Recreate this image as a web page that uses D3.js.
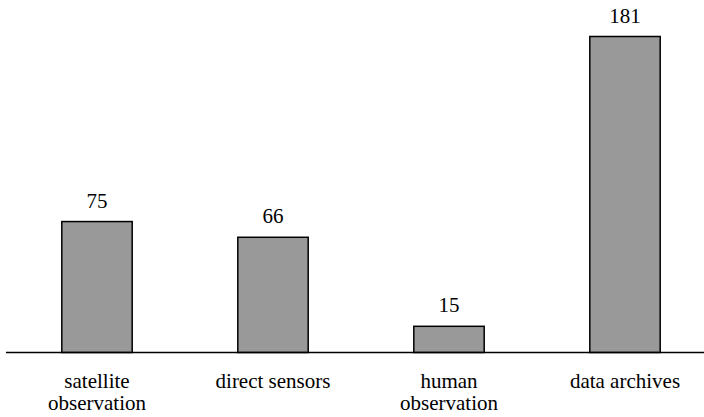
<!DOCTYPE html>
<html>
<head>
<meta charset="utf-8">
<script src="https://cdn.jsdelivr.net/npm/d3@7"></script>
</head>
<body style="margin:0">
<div id="plot"></div>
<script>
// data
var categories = [["satellite", "observation"], ["direct sensors"], ["human", "observation"], ["data archives"]];
var counts = [75, 66, 15, 181];

var w = 704, h = 417;
var baseY = 352.5;
var fontName = "Liberation Serif";

var svg = d3.select("#plot").append("svg")
    .attr("width", w)
    .attr("height", h);

var keys = categories.map(function(c) { return c.join(" "); });

var xScale = d3.scaleBand()
    .domain(keys)
    .range([9, 713])
    .paddingInner(0.6)
    .paddingOuter(0.3);

var yScale = d3.scaleLinear()
    .domain([0, 181])
    .range([baseY, 36.5]);

// bars
svg.selectAll(".bar")
    .data(counts)
    .enter().append("rect")
    .attr("class", "bar")
    .attr("x", function(d, i) { return xScale(keys[i]); })
    .attr("y", function(d) { return yScale(d); })
    .attr("width", xScale.bandwidth())
    .attr("height", function(d) { return baseY - yScale(d); })
    .attr("fill", "#999999")
    .attr("stroke", "#000")
    .attr("stroke-width", 1.5);

// value labels
counts.forEach(function(d, i) {
  svg.append("text")
    .attr("x", xScale(keys[i]) + xScale.bandwidth() / 2)
    .attr("y", yScale(d) - 14)
    .style("font-family", fontName)
    .style("font-size", "21px")
    .style("text-anchor", "middle")
    .text(d);
});

// baseline
svg.append("line")
    .attr("x1", 6).attr("x2", 704)
    .attr("y1", baseY).attr("y2", baseY)
    .attr("stroke", "#000")
    .attr("stroke-width", 1.5);

// category labels, one text per line
categories.forEach(function(lines, i) {
  var cx = xScale(keys[i]) + xScale.bandwidth() / 2;
  lines.forEach(function(s, j) {
    svg.append("text")
      .attr("x", cx)
      .attr("y", 388 + j * 22)
      .style("font-family", fontName)
      .style("font-size", "21px")
      .style("text-anchor", "middle")
      .text(s);
  });
});
</script>
</body>
</html>
